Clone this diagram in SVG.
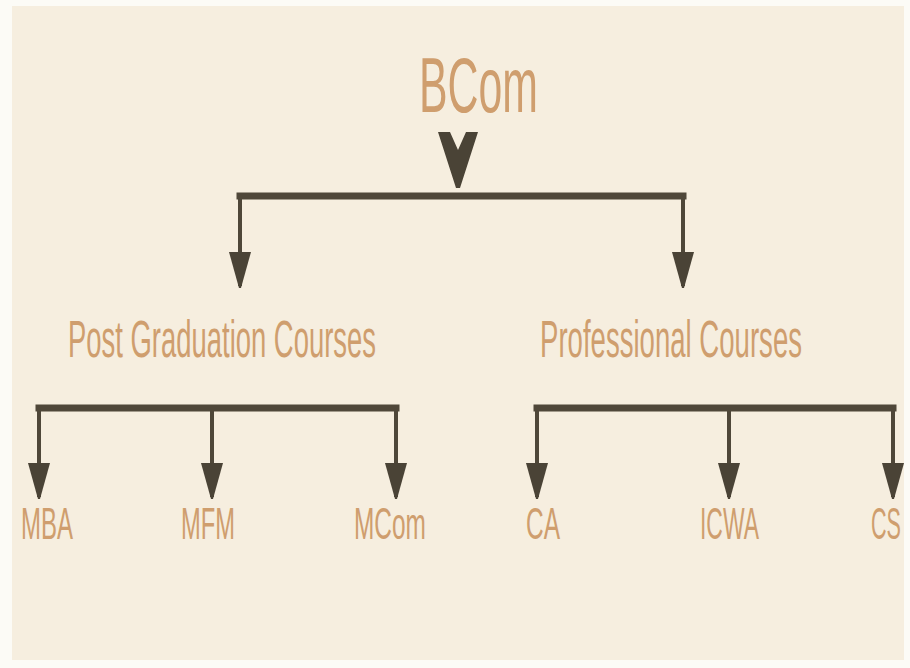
<svg xmlns="http://www.w3.org/2000/svg" width="910" height="668" viewBox="0 0 910 668">
<style>
.lbl{font-family:"Liberation Sans Narrow","Liberation Sans",Arial,sans-serif;fill:#CF9E6E}
.big{font-size:33.5px}
.small{font-size:29px}
.bar{stroke:#4F4739;stroke-width:7;fill:none;stroke-linecap:square}
.stem{stroke:#4F4739;stroke-width:4;fill:none}
</style>
<defs>
<marker id="ah" markerUnits="userSpaceOnUse" markerWidth="22" markerHeight="36" refX="11" refY="34" orient="0" viewBox="0 0 22 36">
<path d="M0,0 L22,0 L12,36 L10,36 Z" fill="#4A4336"/>
</marker>
</defs>
<rect x="0" y="0" width="910" height="668" fill="#FCFBF6"/>
<rect x="12" y="6" width="892" height="654" fill="#F6EEDF"/>
<g id="connectors">
<polygon points="438,132 450,132 458,150 466,132 478,132 460,188 456,188" fill="#4A4336"/>
<path class="bar" d="M240,196 H683"/>
<path class="stem" d="M240,196 V286" marker-end="url(#ah)"/>
<path class="stem" d="M683,196 V286" marker-end="url(#ah)"/>
<path class="bar" d="M39,408 H396"/>
<path class="stem" d="M39,408 V497" marker-end="url(#ah)"/>
<path class="stem" d="M212,408 V497" marker-end="url(#ah)"/>
<path class="stem" d="M396,408 V497" marker-end="url(#ah)"/>
<path class="bar" d="M537,408 H893"/>
<path class="stem" d="M537,408 V497" marker-end="url(#ah)"/>
<path class="stem" d="M729,408 V497" marker-end="url(#ah)"/>
<path class="stem" d="M893,408 V497" marker-end="url(#ah)"/>
</g>
<g id="bcom"><text class="lbl" transform="translate(419,112) scale(1,1.49)" x="0" y="0" font-size="52.2" textLength="119" lengthAdjust="spacingAndGlyphs" fill="#C88A58">BCom</text></g>
<g id="pg"><text class="lbl big" transform="translate(68,357) scale(1,1.55)" x="0" y="0" textLength="308" lengthAdjust="spacingAndGlyphs">Post Graduation Courses</text></g>
<g id="prof"><text class="lbl big" transform="translate(540,357) scale(1,1.55)" x="0" y="0" textLength="262" lengthAdjust="spacingAndGlyphs">Professional Courses</text></g>
<g id="mba"><text class="lbl small" transform="translate(21,539) scale(1,1.52)" x="0" y="0" textLength="52" lengthAdjust="spacingAndGlyphs">MBA</text></g>
<g id="mfm"><text class="lbl small" transform="translate(181,539) scale(1,1.52)" x="0" y="0" textLength="54" lengthAdjust="spacingAndGlyphs">MFM</text></g>
<g id="mcom"><text class="lbl small" transform="translate(354,539) scale(1,1.52)" x="0" y="0" textLength="72" lengthAdjust="spacingAndGlyphs">MCom</text></g>
<g id="ca"><text class="lbl small" transform="translate(526,539) scale(1,1.52)" x="0" y="0" textLength="34" lengthAdjust="spacingAndGlyphs">CA</text></g>
<g id="icwa"><text class="lbl small" transform="translate(700,539) scale(1,1.52)" x="0" y="0" textLength="59" lengthAdjust="spacingAndGlyphs">ICWA</text></g>
<g id="cs"><text class="lbl small" transform="translate(871,539) scale(1,1.52)" x="0" y="0" textLength="30" lengthAdjust="spacingAndGlyphs">CS</text></g>
</svg>
